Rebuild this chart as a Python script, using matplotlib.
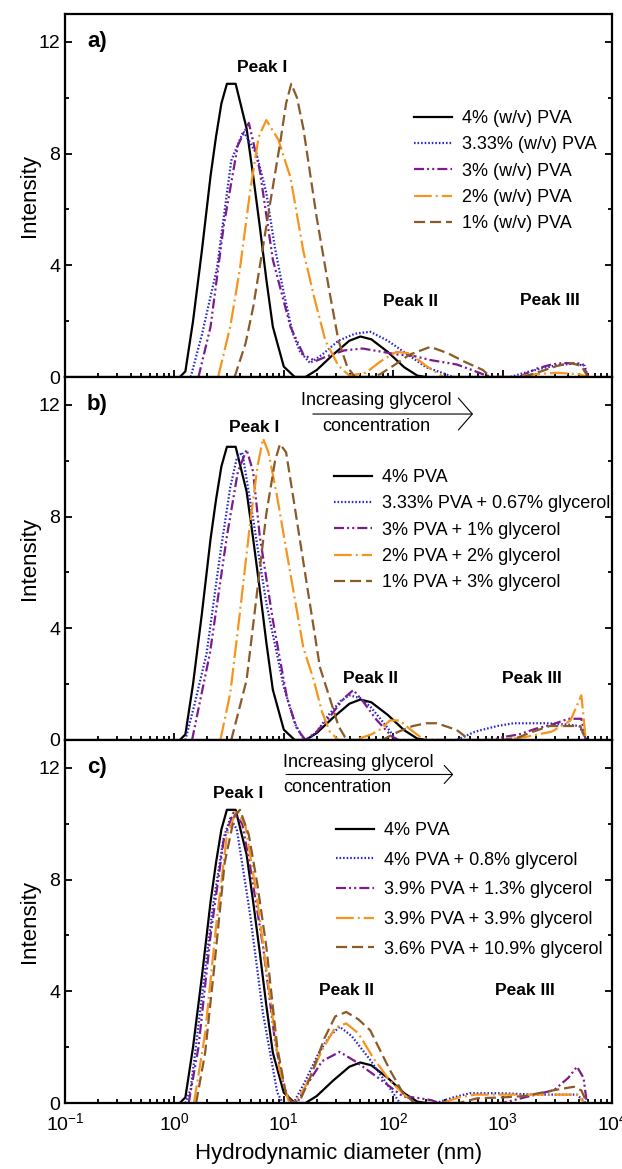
import numpy as np
import matplotlib
matplotlib.use('Agg')
import matplotlib.pyplot as plt
from matplotlib.ticker import LogLocator, MultipleLocator, NullFormatter

plt.rcParams['font.family'] = ['Liberation Sans', 'DejaVu Sans']
plt.rcParams['mathtext.fontset'] = 'custom'
plt.rcParams['mathtext.rm'] = 'Liberation Sans'
plt.rcParams['mathtext.it'] = 'Liberation Sans:italic'
plt.rcParams['mathtext.bf'] = 'Liberation Sans:bold'

# ---- data (diameter in nm, intensity) ----
# 4% PVA reference, same in all three panels
d_pva4 = [1.12, 1.26, 1.48, 1.78, 2.14, 2.40, 2.69, 3.02, 3.63, 4.57, 5.25, 6.03, 6.92, 7.94, 10.0,
          12.6, 15.8, 20.0, 28.2, 39.8, 50.1, 63.1, 89.1, 126, 166, 200]
i_pva4 = [0, 0.2, 2.0, 4.5, 7.2, 8.6, 9.8, 10.5, 10.5, 8.9, 7.2, 5.4, 3.5, 1.8, 0.37,
          0, 0, 0.25, 0.8, 1.3, 1.45, 1.35, 0.9, 0.35, 0.05, 0]

# panel a
a_d_333 = [1.41, 1.78, 2.45, 3.31, 4.27, 5.62, 6.92, 8.32, 10.0, 12.0, 14.1, 17.4, 22.4, 31.6, 44.7,
           61.7, 89.1, 141, 200, 288, 355, 1175, 1585, 2239, 3162, 4467, 5623, 6026]
a_i_333 = [0, 1.5, 3.9, 7.75, 8.8, 8.0, 6.6, 4.6, 3.0, 1.6, 0.9, 0.5, 0.8, 1.3, 1.55,
           1.62, 1.3, 0.76, 0.35, 0.13, 0, 0, 0.15, 0.3, 0.42, 0.48, 0.4, 0]
a_d_3 = [1.66, 2.14, 2.82, 3.80, 4.79, 6.03, 7.94, 11.5, 15.1, 19.5, 25.1, 35.5, 52.5, 79.4, 112,
         151, 224, 380, 525, 661, 794, 1413, 2042, 2818, 3548, 5370, 6026]
a_i_3 = [0, 1.8, 5.4, 8.3, 9.1, 7.4, 4.2, 1.8, 0.8, 0.57, 0.75, 0.95, 1.02, 0.9, 0.8,
         0.76, 0.6, 0.45, 0.25, 0.1, 0, 0, 0.3, 0.45, 0.5, 0.48, 0]
a_d_2 = [2.51, 3.24, 3.98, 4.90, 5.89, 6.92, 8.91, 11.5, 15.1, 19.1, 24.0, 31.6, 39.8, 56.2, 75.9,
         107, 141, 200, 288, 1259, 1995, 3162, 5012, 6026]
a_i_2 = [0, 1.8, 3.9, 6.6, 8.6, 9.2, 8.5, 7.15, 4.5, 2.8, 1.3, 0.4, 0.05, 0.15, 0.55,
         0.9, 0.85, 0.4, 0, 0, 0.1, 0.15, 0.1, 0]
a_d_1 = [3.55, 4.47, 5.25, 6.92, 9.23, 10.5, 11.7, 13.2, 15.1, 20.0, 26.3, 31.6, 38.0, 44.7, 63.1,
         75.9, 100, 141, 219, 316, 447, 661, 776, 1549, 2239, 3162, 4169, 5248, 6026]
a_i_1 = [0, 1.2, 2.5, 5.4, 8.35, 9.8, 10.5, 10.0, 8.9, 5.7, 3.0, 1.3, 0.37, 0, 0,
         0.1, 0.4, 0.8, 1.08, 0.85, 0.55, 0.25, 0, 0, 0.2, 0.4, 0.5, 0.4, 0]

# panel b
b_d_333 = [1.26, 1.51, 1.97, 2.63, 3.24, 3.72, 4.17, 5.25, 6.92, 10.0, 12.6, 14.8, 16.6, 20.0, 26.3,
           33.1, 39.8, 50.1, 61.7, 87.1, 107, 380, 562, 891, 1259, 2512, 3981, 5012, 5888]
b_i_333 = [0, 1.2, 3.1, 6.7, 9.05, 10.1, 10.3, 7.9, 4.9, 1.9, 0.6, 0.1, 0, 0.3, 0.95,
           1.4, 1.6, 1.5, 1.2, 0.48, 0, 0, 0.3, 0.5, 0.6, 0.6, 0.55, 0.5, 0]
b_d_3 = [1.45, 2.11, 3.02, 3.80, 4.57, 5.25, 6.03, 7.94, 10.7, 13.2, 15.8, 20.0, 26.3, 35.5, 43.2,
         52.5, 70.8, 97.7, 112, 794, 1000, 1413, 1995, 2818, 3981, 5248, 5754]
b_i_3 = [0, 3.1, 7.3, 9.6, 10.4, 9.6, 7.3, 4.3, 1.5, 0.4, 0, 0.3, 0.83, 1.5, 1.79,
         1.4, 0.71, 0.12, 0, 0, 0.1, 0.2, 0.4, 0.55, 0.76, 0.76, 0]
b_d_2 = [2.63, 3.24, 3.98, 4.90, 5.75, 6.46, 7.24, 8.61, 11.5, 15.1, 18.6, 22.4, 26.3, 31.6, 44.7,
         63.1, 77.6, 93.3, 115, 141, 178, 224, 1000, 1585, 2818, 4169, 5248, 5754]
b_i_2 = [0, 1.67, 4.6, 7.7, 9.8, 10.8, 10.3, 8.8, 5.95, 3.3, 2.2, 1.0, 0.3, 0, 0,
         0.2, 0.4, 0.7, 0.7, 0.4, 0.1, 0, 0, 0.1, 0.3, 0.7, 1.6, 0]
b_d_1 = [3.31, 4.57, 5.62, 6.92, 8.32, 9.23, 10.5, 12.3, 16.2, 21.4, 26.3, 31.6, 36.3, 39.8, 79.4,
         112, 151, 200, 251, 380, 501, 1000, 1413, 1778, 2692, 3981, 5129, 5754]
b_i_1 = [0, 2.15, 5.1, 8.1, 10.0, 10.6, 10.3, 8.6, 5.6, 2.6, 1.5, 0.5, 0.1, 0, 0,
         0.3, 0.5, 0.6, 0.6, 0.36, 0, 0, 0.1, 0.26, 0.5, 0.5, 0.5, 0]

# panel c
c_d_08 = [1.26, 1.41, 1.72, 2.24, 2.82, 3.24, 3.72, 4.90, 6.46, 8.71, 9.77, 12.3, 15.8, 20.9, 26.3,
          32.4, 41.7, 61.7, 87.1, 115, 245, 355, 501, 1000, 1995, 3162, 4786, 5754]
c_i_08 = [0, 0.5, 3.3, 7.0, 9.5, 10.2, 9.8, 6.8, 3.2, 0.37, 0, 0, 0.8, 1.8, 2.4,
          2.73, 2.4, 1.54, 0.7, 0, 0, 0.2, 0.35, 0.35, 0.3, 0.3, 0.3, 0]
c_d_13 = [1.35, 1.66, 2.14, 2.82, 3.47, 4.17, 5.01, 6.46, 8.32, 10.0, 11.5, 13.2, 16.6, 22.4, 32.4,
          44.7, 70.8, 123, 158, 224, 263, 1000, 1585, 2951, 3981, 4786, 5495, 5888]
c_i_13 = [0, 2.0, 6.0, 9.4, 10.4, 10.0, 8.3, 5.6, 2.2, 0.6, 0, 0, 0.7, 1.5, 1.83,
          1.5, 0.94, 0.23, 0.2, 0.1, 0, 0, 0.2, 0.46, 0.9, 1.3, 0.9, 0]
c_d_39 = [1.51, 1.91, 2.40, 3.02, 3.72, 4.47, 5.62, 7.24, 9.12, 11.0, 12.6, 15.8, 22.4, 29.5, 37.2,
          47.9, 66.1, 93.3, 126, 158, 282, 398, 562, 1585, 4786, 5623]
c_i_39 = [0, 2.5, 6.3, 9.6, 10.5, 9.9, 7.5, 4.2, 1.2, 0.1, 0, 0.6, 1.9, 2.7, 2.85,
          2.5, 1.6, 0.8, 0.3, 0, 0, 0.2, 0.3, 0.3, 0.3, 0]
c_d_109 = [1.58, 1.91, 2.29, 2.88, 3.55, 3.98, 4.79, 5.75, 6.92, 8.71, 10.5, 12.0, 14.1, 17.8, 23.4,
           29.5, 37.2, 47.9, 61.7, 93.3, 123, 158, 398, 589, 1000, 1585, 2951, 4467, 5248, 5888]
c_i_109 = [0, 1.8, 4.7, 8.6, 10.3, 10.5, 9.6, 7.8, 5.6, 2.0, 0.3, 0, 0.1, 1.0, 2.3,
           3.1, 3.26, 3.0, 2.6, 1.18, 0.35, 0, 0, 0.17, 0.2, 0.25, 0.46, 0.58, 0.45, 0]

labels_a = ['4% (w/v) PVA', '3.33% (w/v) PVA', '3% (w/v) PVA', '2% (w/v) PVA', '1% (w/v) PVA']
labels_b = ['4% PVA', '3.33% PVA + 0.67% glycerol', '3% PVA + 1% glycerol',
            '2% PVA + 2% glycerol', '1% PVA + 3% glycerol']
labels_c = ['4% PVA', '4% PVA + 0.8% glycerol', '3.9% PVA + 1.3% glycerol',
            '3.9% PVA + 3.9% glycerol', '3.6% PVA + 10.9% glycerol']

# line styles in the order black, blue, purple, orange, brown
colors = ['black', '#2323d8', '#7b1c8a', '#f7941d', '#8a5a28']
dashes = ['-', (0, (0.7, 0.9)), (0, (4.5, 1.4, 0.9, 1.4, 0.9, 1.4)),
          (0, (8, 1.8, 0.9, 1.8)), (0, (5.0, 2.2))]

panels = [
    ('a)', [(d_pva4, i_pva4), (a_d_333, a_i_333), (a_d_3, a_i_3), (a_d_2, a_i_2), (a_d_1, a_i_1)], labels_a),
    ('b)', [(d_pva4, i_pva4), (b_d_333, b_i_333), (b_d_3, b_i_3), (b_d_2, b_i_2), (b_d_1, b_i_1)], labels_b),
    ('c)', [(d_pva4, i_pva4), (c_d_08, c_i_08), (c_d_13, c_i_13), (c_d_39, c_i_39), (c_d_109, c_i_109)], labels_c),
]

fig = plt.figure(figsize=(6.22, 11.69), dpi=100)
W, H = 622.0, 1169.0
left, right = 65 / W, 612 / W
tops = [14, 377, 740]
ph = 363

# legend anchor (x, y) in axes fraction, row spacing
leg_pos = [(0.638, 0.736, 0.52), (0.492, 0.747, 0.52), (0.495, 0.774, 0.70)]
peak_pos = [
    [(6.4, 11.1, 'Peak I'), (143, 2.7, 'Peak II'), (2700, 2.75, 'Peak III')],
    [(5.4, 11.2, 'Peak I'), (62, 2.2, 'Peak II'), (1860, 2.2, 'Peak III')],
    [(3.8, 11.07, 'Peak I'), (37.6, 4.04, 'Peak II'), (1600, 4.04, 'Peak III')],
]

for k, (tag, series, labels) in enumerate(panels):
    ax = fig.add_axes([left, 1 - (tops[k] + ph) / H, right - left, ph / H])
    for (d, inten), col, ls, lab in zip(series, colors, dashes, labels):
        ax.plot(d, inten, color=col, linestyle=ls, lw=1.6, label=lab)
    ax.set_xscale('log')
    ax.set_xlim(0.1, 1e4)
    ax.set_ylim(0, 13)
    ax.xaxis.set_major_locator(LogLocator(base=10, numticks=10))
    ax.xaxis.set_minor_locator(LogLocator(base=10, subs=np.arange(2, 10), numticks=20))
    ax.xaxis.set_minor_formatter(NullFormatter())
    ax.yaxis.set_major_locator(MultipleLocator(4))
    ax.yaxis.set_minor_locator(MultipleLocator(2))
    ax.tick_params(which='both', direction='in', right=True, top=False, width=1.3)
    ax.tick_params(which='major', length=5, labelsize=14)
    ax.tick_params(which='minor', length=3)
    ax.tick_params(axis='x', which='major', pad=6.5)
    for sp in ax.spines.values():
        sp.set_linewidth(1.6)
    if k < 2:
        ax.tick_params(labelbottom=False)
    ax.set_ylabel('Intensity', fontsize=16, labelpad=-1)

    ax.text(0.04, 12.0 / 13, tag, transform=ax.transAxes, fontsize=16, fontweight='bold',
            ha='left', va='center')
    for px, py, t in peak_pos[k]:
        ax.text(px, py, t, fontsize=12.5, fontweight='bold', ha='center', va='center')

    lx, ly, lsp = leg_pos[k]
    ax.legend(loc='upper left', bbox_to_anchor=(lx, ly), frameon=False, fontsize=13,
              handlelength=2.1, handletextpad=0.55, labelspacing=lsp, borderpad=0,
              borderaxespad=0)

    if k == 1:
        ax.text(0.569, 0.934, 'Increasing glycerol', transform=ax.transAxes, fontsize=13,
                ha='center', va='center')
        ax.text(0.569, 0.865, 'concentration', transform=ax.transAxes, fontsize=13,
                ha='center', va='center')
        ax.annotate('', xy=(0.751, 0.898), xytext=(0.448, 0.898), xycoords='axes fraction',
                    arrowprops=dict(arrowstyle='->,head_length=1.0,head_width=1.15',
                                    mutation_scale=10, lw=0.8, color='black'))
    if k == 2:
        ax.text(0.399, 0.937, 'Increasing glycerol', transform=ax.transAxes, fontsize=13,
                ha='left', va='center')
        ax.text(0.399, 0.868, 'concentration', transform=ax.transAxes, fontsize=13,
                ha='left', va='center')
        ax.annotate('', xy=(0.715, 0.905), xytext=(0.399, 0.905), xycoords='axes fraction',
                    arrowprops=dict(arrowstyle='->,head_length=0.6,head_width=0.65',
                                    mutation_scale=10, lw=0.8, color='black'))
        ax.set_xlabel('Hydrodynamic diameter (nm)', fontsize=16, labelpad=6.5)

fig.savefig('out.png', dpi=100)
